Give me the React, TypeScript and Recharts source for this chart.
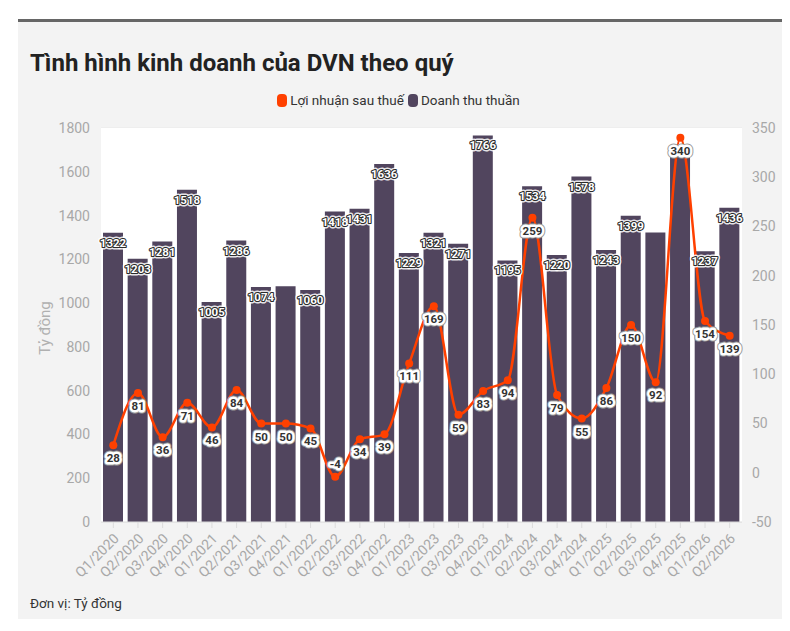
import React from "react";
import {
  Bar,
  CartesianGrid,
  ComposedChart,
  LabelList,
  Line,
  XAxis,
  YAxis,
} from "recharts";

const quarters = [
  "Q1/2020", "Q2/2020", "Q3/2020", "Q4/2020",
  "Q1/2021", "Q2/2021", "Q3/2021", "Q4/2021",
  "Q1/2022", "Q2/2022", "Q3/2022", "Q4/2022",
  "Q1/2023", "Q2/2023", "Q3/2023", "Q4/2023",
  "Q1/2024", "Q2/2024", "Q3/2024", "Q4/2024",
  "Q1/2025", "Q2/2025", "Q3/2025", "Q4/2025",
  "Q1/2026", "Q2/2026",
];

// Doanh thu thuần (tỷ đồng)
const revenue = [
  1322, 1203, 1281, 1518, 1005, 1286, 1074, 1077, 1060, 1418, 1431, 1636, 1229,
  1321, 1271, 1766, 1195, 1534, 1220, 1578, 1243, 1399, 1323, 1669, 1237, 1436,
];

// Lợi nhuận sau thuế (tỷ đồng)
const profit = [
  28, 81, 36, 71, 46, 84, 50, 50, 45, -4, 34, 39, 111, 169, 59, 83, 94, 259, 79,
  55, 86, 150, 92, 340, 154, 139,
];

// quarters whose revenue label is hidden in the source (overlap)
const hiddenRevenueLabels = ["Q4/2021", "Q3/2025", "Q4/2025"];

const leftTicks = [0, 200, 400, 600, 800, 1000, 1200, 1400, 1600, 1800];
const rightTicks = [-50, 0, 50, 100, 150, 200, 250, 300, 350];

const data = quarters.map((q, i) => ({
  q,
  revenue: revenue[i],
  profit: profit[i],
}));

const BAR = "#51455e";
const LINE = "#ff4000";
const FONT = "Roboto, 'Noto Sans', sans-serif";

const XTick = ({ x, y, payload }: any) => (
  <g transform={`translate(${x + 3},${y + 6})`}>
    <text
      x={0}
      y={0}
      dy="0.35em"
      textAnchor="end"
      transform="rotate(-45)"
      fill="#a8a8a8"
      fontSize={14}
      fontFamily={FONT}
    >
      {payload.value}
    </text>
  </g>
);

const RevenueLabel = (props: any) => {
  const { x, y, width, value, index } = props;
  if (hiddenRevenueLabels.includes(quarters[index])) return null;
  const cx = x + width / 2;
  const cy = y + 10;
  return (
    <g fontFamily={FONT} fontSize={11.5} fontWeight={700}>
      <text x={cx} y={cy} textAnchor="middle" dominantBaseline="central"
        stroke="#ffffff" strokeOpacity={0.85} strokeWidth={5} strokeLinejoin="round" fill="#fff">
        {value}
      </text>
      <text x={cx} y={cy} textAnchor="middle" dominantBaseline="central"
        stroke="#2b2b2b" strokeWidth={2.2} strokeLinejoin="round"
        paintOrder="stroke" fill="#fff">
        {value}
      </text>
    </g>
  );
};

const ProfitLabel = (props: any) => {
  const { x, y, value } = props;
  const cy = value < 0 ? y - 13 : y + 13;
  return (
    <g fontFamily={FONT} fontSize={11.5} fontWeight={700}>
      <text x={x} y={cy} textAnchor="middle" dominantBaseline="central"
        stroke="#9a9a9a" strokeWidth={7} strokeLinejoin="round" fill="#fff">
        {value}
      </text>
      <text x={x} y={cy} textAnchor="middle" dominantBaseline="central"
        stroke="#fff" strokeWidth={5} strokeLinejoin="round"
        paintOrder="stroke" fill="#333">
        {value}
      </text>
    </g>
  );
};

const LegendItem = ({ color, label }: { color: string; label: string }) => (
  <span style={{ display: "inline-flex", alignItems: "center", marginRight: 4 }}>
    <span
      style={{
        display: "inline-block",
        width: 10,
        height: 13,
        borderRadius: 4,
        background: color,
        marginRight: 3,
      }}
    />
    {label}
  </span>
);

export default function App() {
  return (
    <div style={{ position: "relative", width: 782, height: 623 }}>
      <div
        style={{
          position: "absolute",
          left: 10,
          top: 11,
          width: 765,
          height: 597,
          background: "#f3f3f3",
          borderTop: "3px solid #666",
          fontFamily: FONT,
        }}
      >
        <div
          style={{
            position: "absolute",
            left: 12,
            top: 27,
            fontSize: 24,
            fontWeight: 700,
            color: "#222",
            whiteSpace: "nowrap",
          }}
        >
          Tình hình kinh doanh của DVN theo quý
        </div>
        <div
          style={{
            position: "absolute",
            left: 0,
            width: 765,
            top: 70,
            textAlign: "center",
            fontSize: 13.5,
            color: "#333",
          }}
        >
          <LegendItem color={LINE} label="Lợi nhuận sau thuế" />
          <LegendItem color={BAR} label="Doanh thu thuần" />
        </div>
        <div
          style={{
            position: "absolute",
            left: 27,
            top: 306,
            transform: "translate(-50%, -50%) rotate(-90deg)",
            fontSize: 15,
            color: "#b0b0b0",
            whiteSpace: "nowrap",
          }}
        >
          Tỷ đồng
        </div>
        <div
          style={{
            position: "absolute",
            left: 12,
            top: 573,
            fontSize: 13.5,
            color: "#333",
          }}
        >
          Đơn vị: Tỷ đồng
        </div>
        <div style={{ position: "absolute", left: 0, top: 88 }}>
          <ComposedChart
            width={765}
            height={509}
            data={data}
            margin={{ top: 18, right: 0, bottom: 27, left: 23 }}
          >
            <rect x={83} y={18} width={641} height={394} fill="#fff" />
            <CartesianGrid vertical={false} stroke="#e8e8e8" yAxisId="left" />
            <XAxis
              dataKey="q"
              interval={0}
              height={70}
              tick={<XTick />}
              tickSize={6}
              tickMargin={2}
              tickLine={{ stroke: "#dcdcdc" }}
              axisLine={{ stroke: "#dcdcdc" }}
            />
            <YAxis
              yAxisId="left"
              width={60}
              domain={[0, 1800]}
              ticks={leftTicks}
              interval={0}
              tickSize={0}
              tickMargin={11}
              axisLine={false}
              tickLine={false}
              tick={{ fill: "#a8a8a8", fontSize: 14, fontFamily: FONT }}
            />
            <YAxis
              yAxisId="right"
              orientation="right"
              width={41}
              domain={[-50, 350]}
              ticks={rightTicks}
              interval={0}
              tickSize={0}
              tickMargin={10}
              axisLine={false}
              tickLine={false}
              tick={{ fill: "#a8a8a8", fontSize: 14, fontFamily: FONT }}
            />
            <Bar
              yAxisId="left"
              dataKey="revenue"
              fill={BAR}
              barSize={20}
              isAnimationActive={false}
            >
              <LabelList dataKey="revenue" content={<RevenueLabel />} />
            </Bar>
            <Line
              yAxisId="right"
              type="monotone"
              dataKey="profit"
              stroke={LINE}
              strokeWidth={2.5}
              dot={{ r: 4, fill: LINE, stroke: LINE, strokeWidth: 0 }}
              isAnimationActive={false}
            >
              <LabelList dataKey="profit" content={<ProfitLabel />} />
            </Line>
          </ComposedChart>
        </div>
      </div>
    </div>
  );
}
